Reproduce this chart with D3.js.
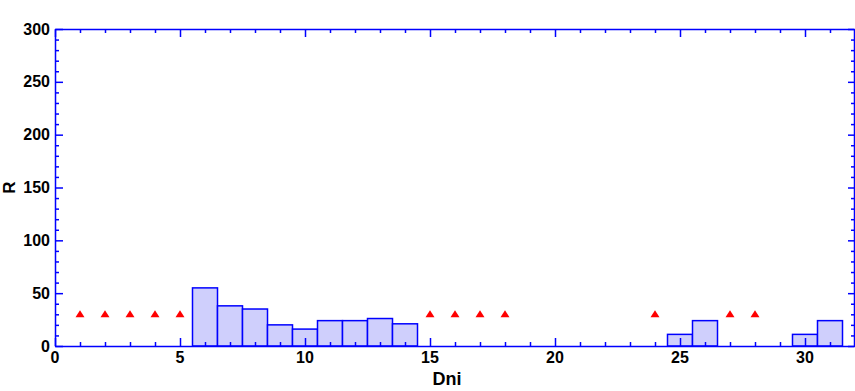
<!DOCTYPE html>
<html>
<head>
<meta charset="utf-8">
<script src="https://cdn.jsdelivr.net/npm/d3@7"></script>
<style>
body { margin: 0; background: white; }
svg text { font-family: "Liberation Sans", Arial, sans-serif; font-weight: bold; fill: black; }
</style>
</head>
<body>
<script>
// histogram bins (centre of bin, height)
var binCentres = [6, 7, 8, 9, 10, 11, 12, 13, 14, 25, 26, 30, 31];
var binCounts  = [55, 38, 35, 20, 16, 24, 24, 26, 21, 11, 24, 11, 24];

// red triangle markers
var markX = [1, 2, 3, 4, 5, 15, 16, 17, 18, 24, 27, 28];
var markY = [30, 30, 30, 30, 30, 30, 30, 30, 30, 30, 30, 30];

var xTicks = [0, 5, 10, 15, 20, 25, 30];
var yTicks = [0, 50, 100, 150, 200, 250, 300];

var width = 855, height = 391;
var padL = 55, padR = 854, padT = 29, padB = 346;
var blue = "#0000ff";

var svg = d3.select("body").append("svg")
    .attr("width", width)
    .attr("height", height);

var x = d3.scaleLinear().domain([0, 32]).range([padL, padR + 1]);
var y = d3.scaleLinear().domain([0, 300]).range([padB, padT]);

// bars
svg.append("g")
  .selectAll("rect")
  .data(binCentres)
  .enter().append("rect")
  .attr("x", function(d) { return x(d - 0.5); })
  .attr("width", function(d) { return x(d + 0.5) - x(d - 0.5); })
  .attr("y", function(d, i) { return y(binCounts[i]); })
  .attr("height", function(d, i) { return y(0) - y(binCounts[i]); })
  .style("fill", "#cfcffc")
  .style("stroke", blue)
  .style("stroke-width", 1.5);

// axes, ticks pointing inside on all four sides
var xMinor = d3.range(0, 33, 1);
var yMinor = d3.range(0, 301, 10);

function addAxis(orient, pos) {
  var isX = (orient == "bottom" || orient == "top");
  var scale = isX ? x : y;
  var minor = isX ? xMinor : yMinor;
  var majorStep = isX ? 5 : 50;
  var g = svg.append("g")
    .attr("transform", isX ? "translate(0," + pos + ")" : "translate(" + pos + ",0)");
  var ax;
  if (orient == "bottom") ax = d3.axisTop(scale);
  else if (orient == "top") ax = d3.axisBottom(scale);
  else if (orient == "left") ax = d3.axisRight(scale);
  else ax = d3.axisLeft(scale);
  g.call(ax.tickValues(minor).tickSizeOuter(0).tickSizeInner(0).tickFormat(""));
  g.selectAll(".tick line")
    .attr(isX ? "y2" : "x2", function(d) {
      var len = (d % majorStep == 0) ? 8 : 4;
      if (orient == "right") len = (d % majorStep == 0) ? 6 : 3;
      return (orient == "bottom" || orient == "right") ? -len : len;
    })
    .style("stroke", blue)
    .style("stroke-width", 1.5);
  g.select(".domain").style("stroke", blue).style("stroke-width", 1.5);
  return g;
}

addAxis("bottom", padB);
addAxis("top", padT);
addAxis("left", padL);
addAxis("right", padR);

// tick labels
svg.append("g").selectAll("text")
  .data(xTicks).enter().append("text")
  .attr("x", function(d) { return x(d); })
  .attr("y", 363)
  .attr("text-anchor", "middle")
  .style("font-size", "16px")
  .text(function(d) { return d; });

svg.append("g").selectAll("text")
  .data(yTicks).enter().append("text")
  .attr("x", padL - 5)
  .attr("y", function(d) { return y(d) + 5.5; })
  .attr("text-anchor", "end")
  .style("font-size", "16px")
  .text(function(d) { return d; });

// triangles
svg.append("g").selectAll("path")
  .data(markX).enter().append("path")
  .attr("d", "M0,-4L4.5,3L-4.5,3Z")
  .attr("transform", function(d, i) { return "translate(" + x(d) + "," + y(markY[i]) + ")"; })
  .style("fill", "#ff0000");

// axis titles
svg.append("text")
  .attr("x", 447)
  .attr("y", 385)
  .attr("text-anchor", "middle")
  .style("font-size", "18px")
  .text("Dni");

svg.append("text")
  .attr("transform", "translate(15," + ((padT + padB) / 2) + ") rotate(-90)")
  .attr("text-anchor", "middle")
  .style("font-size", "17px")
  .text("R");
</script>
</body>
</html>
